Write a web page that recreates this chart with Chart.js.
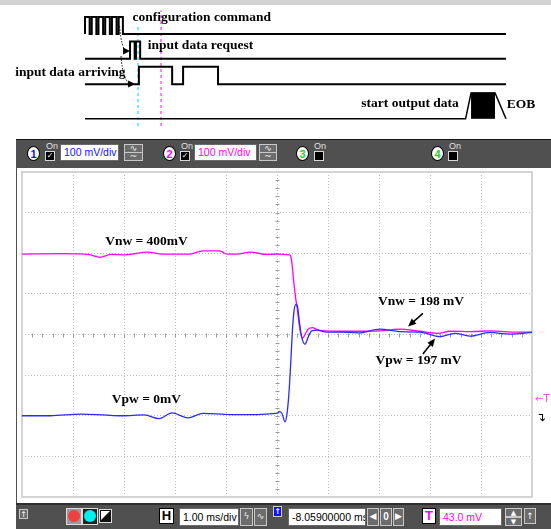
<!DOCTYPE html>
<html>
<head>
<meta charset="utf-8">
<script src="https://cdn.jsdelivr.net/npm/chart.js@4.4.0/dist/chart.umd.min.js"></script>
<style>
  body { margin: 0; width: 551px; height: 529px; overflow: hidden; background: #fff; position: relative;
         font-family: "Liberation Sans", Arial, sans-serif; }
  .a { position: absolute; box-sizing: border-box; }
  .ov { position: absolute; width: 13px; height: 15px; border: 1px solid #000; border-radius: 50%; background: #fff;
        font: bold 11px "Liberation Sans", Arial; text-align: center; line-height: 14px; box-sizing: border-box; }
  .on { position: absolute; font: 9px "Liberation Sans", Arial; color: #e0e0e0; line-height: 9px; }
  .cb { position: absolute; width: 10px; height: 10px; background: #000; border: 1px solid #d8d8d8; box-sizing: border-box;
        color: #fff; font: bold 8px "DejaVu Sans"; line-height: 8px; text-align: center; }
  .tb { position: absolute; background: #fff; border: 1px solid #6a6a6a; font: 10.5px "Liberation Sans", Arial;
        line-height: 15px; padding-left: 3px; box-sizing: border-box; white-space: nowrap; overflow: hidden; }
  .bt { position: absolute; background: #6c6c6c; border: 1px solid #c8c8c8; box-sizing: border-box; color: #eee;
        font: 9px "DejaVu Sans"; text-align: center; line-height: 14px; }
</style>
</head>
<body>
<!-- top grey band -->
<div class="a" style="left:0;top:0;width:551px;height:5px;background:#d2d2d2"></div>
<canvas id="timing" class="a" width="551" height="135" style="left:0;top:0"></canvas>

<!-- scope frame -->
<div class="a" style="left:16px;top:139px;width:535px;height:390px;background:#505050;border-top:1px solid #141414"></div>
<div class="a" style="left:17px;top:168px;width:534px;height:335px;background:#fff"></div>
<div class="a" style="left:16px;top:503px;width:535px;height:2px;background:#2e2e2e"></div>
<canvas id="scope" class="a" width="534" height="335" style="left:17px;top:168px"></canvas>

<!-- channel bar -->
<div class="ov" style="left:27px;top:146px;color:#1010ff">1</div>
<div class="on" style="left:46px;top:142px">On</div>
<div class="cb" style="left:45px;top:151px">✓</div>
<div class="tb" style="left:60px;top:144px;width:59px;height:17px;color:#1414ff">100 mV/div</div>
<div class="bt" style="left:124px;top:144px;width:19px;height:9px;line-height:7px">∿</div>
<div class="bt" style="left:124px;top:152px;width:19px;height:9px;line-height:7px">~</div>

<div class="ov" style="left:163px;top:146px;color:#ff00ff">2</div>
<div class="on" style="left:181px;top:142px">On</div>
<div class="cb" style="left:180px;top:151px">✓</div>
<div class="tb" style="left:194px;top:144px;width:63px;height:17px;color:#ff00ff">100 mV/div</div>
<div class="bt" style="left:259px;top:144px;width:18px;height:9px;line-height:7px">∿</div>
<div class="bt" style="left:259px;top:152px;width:18px;height:9px;line-height:7px">~</div>

<div class="ov" style="left:296px;top:146px;color:#22d022">3</div>
<div class="on" style="left:314px;top:142px">On</div>
<div class="cb" style="left:314px;top:151px"></div>

<div class="ov" style="left:431px;top:146px;color:#22d022">4</div>
<div class="on" style="left:449px;top:142px">On</div>
<div class="cb" style="left:448px;top:151px"></div>

<!-- right trigger markers -->
<div class="a" style="left:535px;top:393px;font:10px 'DejaVu Sans';color:#ff40ff">←T</div>
<div class="a" style="left:536px;top:410px;font:12px 'DejaVu Sans';color:#000">↴</div>

<!-- bottom toolbar -->
<div class="bt" style="left:19px;top:509px;width:9px;height:10px;line-height:9px;font-size:8px;color:#fff">↑</div>
<div class="a" style="left:66px;top:508px;width:16px;height:17px;background:#9a9a9a;border:1px solid #ddd"></div>
<div class="a" style="left:68px;top:510px;width:12px;height:12px;border-radius:50%;background:#f04040"></div>
<div class="a" style="left:82px;top:508px;width:16px;height:17px;background:#222;border:1px solid #ddd"></div>
<div class="a" style="left:84px;top:510px;width:12px;height:12px;border-radius:50%;background:#00f0f0"></div>
<div class="a" style="left:99px;top:509px;width:13px;height:14px;background:#111;border:1px solid #ddd"></div>
<div class="a" style="left:101px;top:511px;width:9px;height:9px;background:linear-gradient(135deg,#fff 45%,#111 55%)"></div>

<div class="a" style="left:159px;top:508px;width:15px;height:16px;background:#fff;border:1px solid #000;font:bold 13px 'Liberation Sans';text-align:center;line-height:14px">H</div>
<div class="tb" style="left:179px;top:508px;width:60px;height:18px;line-height:16px;color:#000">1.00 ms/div</div>
<div class="bt" style="left:240px;top:508px;width:13px;height:18px">ϟ</div>
<div class="bt" style="left:254px;top:508px;width:13px;height:18px">∿</div>
<div class="a" style="left:273px;top:506px;width:9px;height:11px;background:#1010ff;border:1px solid #ccc;color:#fff;font:bold 8px 'DejaVu Sans';text-align:center;line-height:9px">↑</div>
<div class="tb" style="left:288px;top:508px;width:78px;height:18px;line-height:16px;color:#000">-8.05900000 ms</div>
<div class="bt" style="left:367px;top:508px;width:12px;height:18px;color:#fff">◀</div>
<div class="bt" style="left:380px;top:508px;width:12px;height:18px;color:#fff;font:bold 10px 'Liberation Sans';line-height:16px">0</div>
<div class="bt" style="left:393px;top:508px;width:11px;height:18px;color:#fff">▶</div>
<div class="a" style="left:422px;top:508px;width:14px;height:16px;background:#fff;border:1px solid #000;font:bold 13px 'Liberation Sans';color:#ff00ff;text-align:center;line-height:14px">T</div>
<div class="tb" style="left:439px;top:508px;width:63px;height:18px;line-height:16px;color:#ff00ff">43.0 mV</div>
<div class="bt" style="left:505px;top:508px;width:17px;height:9px;line-height:8px;color:#fff;font-size:7px">▲</div>
<div class="bt" style="left:505px;top:517px;width:17px;height:9px;line-height:8px;color:#fff;font-size:7px">▼</div>
<div class="bt" style="left:524px;top:508px;width:12px;height:16px;color:#fff">↑</div>

<script>
// ---------- scope data (time in ms, voltage in mV) ----------
const ch1Time = [0, 0.55, 1.16, 1.6, 1.96, 2.4, 2.69, 2.94, 3.25, 3.55,
                 4.08, 4.61, 4.9, 5.02, 5.045, 5.10, 5.157, 5.20, 5.24, 5.27,
                 5.30, 5.33, 5.37, 5.40, 5.44, 5.48, 5.55, 5.61, 5.68, 5.78,
                 5.97, 6.24, 6.6, 7.02, 7.41, 7.8, 8.2, 8.49, 8.78, 9.18,
                 9.57, 10];
const ch1Mv = [0, 0, 4, 2, 0, 2, -7, 7, -5, 6,
               3, 3, 5, 7, 11, 5, -15, 9, 66, 132,
               205, 254, 274, 270, 230, 196, 176, 193, 209, 211,
               206, 206, 204, 213, 207, 206, 195, 203, 196, 205,
               201, 205];

const ch2Time = [0, 0.8, 1.3, 1.53, 1.75, 2.02, 2.47, 2.76, 3.29, 3.55,
                 3.88, 4.02, 4.22, 4.47, 4.8, 5.0, 5.24, 5.27, 5.30, 5.33,
                 5.37, 5.40, 5.43, 5.46, 5.50, 5.55, 5.61, 5.70, 5.78, 5.97,
                 6.4, 7.02, 7.4, 7.8, 8.14, 8.4, 8.8, 9.2, 9.6, 10];
const ch2Mv = [398, 399, 397, 390, 397, 396, 403, 398, 398, 406,
               406, 398, 398, 403, 397, 398, 396, 392, 368, 328,
               286, 261, 230, 205, 191, 200, 213, 217, 212, 209,
               208, 209, 213, 208, 203, 208, 207, 209, 206, 206];

const X_DIVS = [0, 10];       // ms, 1 ms/div
const Y_RANGE = [-200, 600];  // mV, 100 mV/div

const scopeLabels = [
  { text: 'Vnw = 400mV',  t: 1.63, mv: 428 },
  { text: 'Vnw = 198 mV', t: 6.98, mv: 281 },
  { text: 'Vpw = 197 mV', t: 6.93, mv: 137 },
  { text: 'Vpw = 0mV',    t: 1.76, mv: 39 }
];
const scopeArrows = [
  { from: [7.86, 252], to: [7.57, 220] },
  { from: [7.86, 152], to: [8.10, 190] }
];

// ---------- timing diagram data (arbitrary time units 0..100) ----------
const configT   = [0, 0, 1.1, 1.6, 2.7, 3.2, 4.3, 4.8, 5.9, 6.4, 7.5, 8.0, 9.0, 100];
const configLvl = [0, 1, 0,   1,   0,   1,   0,   1,   0,   1,   0,   1,   0,   0];
const requestT   = [0, 10.7, 11.8, 12.1, 13.1, 100];
const requestLvl = [0, 1,    0,    1,    0,    0];
const arriveT   = [0, 12.8, 20.7, 23.3, 31.6, 100];
const arriveLvl = [0, 1,    0,    1,    0,    0];
const outputT   = [0, 90.4, 91.7, 97.4, 100];
const outputLvl = [0, 0,    1,    1,    0];
const cursorCyan = 12.6;
const cursorMagenta = 18.05;

const rowLow  = [10.1, 7.63, 5.07, 1.62];
const rowHigh = [11.8, 9.35, 6.82, 4.2];

const timingLabels = [
  { text: 'configuration command', t: 11.3, y: 11.7, align: 'left' },
  { text: 'input data request',    t: 14.9, y: 8.93, align: 'left' },
  { text: 'input data arriving',   t: 9.6,  y: 6.23, align: 'right' },
  { text: 'start output data',     t: 88.8, y: 3.14, align: 'right' },
  { text: 'EOB',                   t: 100.2, y: 3.03, align: 'left' }
];
const timingArrows = [
  { from: [8.2, 10.9], ctrl: [8.7, 8.6], to: [10.7, 8.4] },
  { from: [8.55, 7.9], ctrl: [9.0, 5.3], to: [11.9, 5.1] }
];

const toPts = (ts, vs, row) => ts.map((t, i) => ({ x: t, y: row === undefined ? vs[i] : rowLow[row] + vs[i] * (rowHigh[row] - rowLow[row]) }));

// ---------- timing chart ----------
const timingPlugin = {
  id: 'timingText',
  afterDatasetsDraw(chart) {
    const { ctx, scales: { x, y } } = chart;
    ctx.save();
    ctx.fillStyle = '#000';
    ctx.font = 'bold 13.5px "Liberation Serif", "Times New Roman", serif';
    ctx.textBaseline = 'middle';
    timingLabels.forEach(l => {
      ctx.textAlign = l.align;
      ctx.fillText(l.text, x.getPixelForValue(l.t), y.getPixelForValue(l.y));
    });
    timingArrows.forEach(a => {
      const p0 = [x.getPixelForValue(a.from[0]), y.getPixelForValue(a.from[1])];
      const pc = [x.getPixelForValue(a.ctrl[0]), y.getPixelForValue(a.ctrl[1])];
      const p1 = [x.getPixelForValue(a.to[0]), y.getPixelForValue(a.to[1])];
      ctx.strokeStyle = '#000';
      ctx.lineWidth = 1;
      ctx.setLineDash([1.5, 1.5]);
      ctx.beginPath();
      ctx.moveTo(p0[0], p0[1]);
      ctx.quadraticCurveTo(pc[0], pc[1], p1[0] - 4, p1[1]);
      ctx.stroke();
      ctx.setLineDash([]);
      ctx.beginPath();
      ctx.moveTo(p1[0], p1[1]);
      ctx.lineTo(p1[0] - 7, p1[1] - 3.5);
      ctx.lineTo(p1[0] - 7, p1[1] + 3.5);
      ctx.closePath();
      ctx.fill();
    });
    ctx.restore();
  }
};

const sigLine = (data) => ({ data, borderColor: '#000', borderWidth: 2, pointRadius: 0, stepped: true, fill: false });

new Chart(document.getElementById('timing'), {
  type: 'line',
  data: {
    datasets: [
      sigLine(toPts(configT, configLvl, 0)),
      sigLine(toPts(requestT, requestLvl, 1)),
      sigLine(toPts(arriveT, arriveLvl, 2)),
      { data: toPts(outputT, outputLvl, 3), borderColor: '#000', borderWidth: 1.5, pointRadius: 0, fill: false },
      { data: toPts(outputT.slice(2, 4), outputLvl.slice(2, 4), 3), borderColor: '#000', borderWidth: 1,
        pointRadius: 0, backgroundColor: '#000', fill: { value: rowLow[3] } },
      { data: [{ x: cursorCyan, y: 0.9 }, { x: cursorCyan, y: 11.05 }], borderColor: '#35e0ef', borderWidth: 1.3,
        borderDash: [3, 3], pointRadius: 0 },
      { data: [{ x: cursorMagenta, y: 0.9 }, { x: cursorMagenta, y: 12.45 }], borderColor: '#ff40ff', borderWidth: 1.3,
        borderDash: [3, 3], pointRadius: 0 }
    ]
  },
  options: {
    responsive: false,
    animation: false,
    devicePixelRatio: 1,
    layout: { padding: 0 },
    plugins: { legend: { display: false }, tooltip: { enabled: false } },
    scales: {
      x: { type: 'linear', display: false, min: -20.19, max: 110.69 },
      y: { type: 'linear', display: false, min: 0, max: 13.5 }
    }
  },
  plugins: [timingPlugin]
});

// ---------- scope chart ----------
const scopePlugin = {
  id: 'scopeDecor',
  beforeDatasetsDraw(chart) {
    const { ctx, chartArea: a, scales: { x, y } } = chart;
    ctx.save();
    // center axis minor ticks
    ctx.strokeStyle = '#9a9a9a';
    ctx.lineWidth = 1;
    const cy = Math.round(y.getPixelForValue(200)) + 0.5;
    const cx = Math.round(x.getPixelForValue(5)) + 0.5;
    ctx.beginPath();
    for (let t = 0.2; t < 10; t += 0.2) {
      const px = Math.round(x.getPixelForValue(t)) + 0.5;
      ctx.moveTo(px, cy - 2); ctx.lineTo(px, cy + 2);
    }
    for (let v = -180; v < 600; v += 20) {
      const py = Math.round(y.getPixelForValue(v)) + 0.5;
      ctx.moveTo(cx - 2, py); ctx.lineTo(cx + 2, py);
    }
    ctx.stroke();
    // plot border
    ctx.strokeStyle = '#d4d4d4';
    ctx.lineWidth = 2;
    ctx.strokeRect(a.left, a.top, a.right - a.left, a.bottom - a.top);
    ctx.restore();
  },
  afterDatasetsDraw(chart) {
    const { ctx, scales: { x, y } } = chart;
    ctx.save();
    ctx.fillStyle = '#000';
    ctx.font = 'bold 13.5px "Liberation Serif", "Times New Roman", serif';
    ctx.textBaseline = 'middle';
    ctx.textAlign = 'left';
    scopeLabels.forEach(l => ctx.fillText(l.text, x.getPixelForValue(l.t), y.getPixelForValue(l.mv)));
    scopeArrows.forEach(ar => {
      const x0 = x.getPixelForValue(ar.from[0]), y0 = y.getPixelForValue(ar.from[1]);
      const x1 = x.getPixelForValue(ar.to[0]), y1 = y.getPixelForValue(ar.to[1]);
      const ang = Math.atan2(y1 - y0, x1 - x0);
      ctx.strokeStyle = '#000';
      ctx.lineWidth = 1.5;
      ctx.beginPath();
      ctx.moveTo(x0, y0);
      ctx.lineTo(x1 - 5 * Math.cos(ang), y1 - 5 * Math.sin(ang));
      ctx.stroke();
      ctx.beginPath();
      ctx.moveTo(x1, y1);
      ctx.lineTo(x1 - 8 * Math.cos(ang) + 3.5 * Math.sin(ang), y1 - 8 * Math.sin(ang) - 3.5 * Math.cos(ang));
      ctx.lineTo(x1 - 8 * Math.cos(ang) - 3.5 * Math.sin(ang), y1 - 8 * Math.sin(ang) + 3.5 * Math.cos(ang));
      ctx.closePath();
      ctx.fill();
    });
    ctx.restore();
  }
};

new Chart(document.getElementById('scope'), {
  type: 'line',
  data: {
    datasets: [
      { label: 'Vpw (ch1)', data: toPts(ch1Time, ch1Mv), borderColor: '#2a2aff', borderWidth: 1.3,
        pointRadius: 0, cubicInterpolationMode: 'monotone', fill: false },
      { label: 'Vnw (ch2)', data: toPts(ch2Time, ch2Mv), borderColor: '#ff00ff', borderWidth: 1.3,
        pointRadius: 0, cubicInterpolationMode: 'monotone', fill: false }
    ]
  },
  options: {
    responsive: false,
    animation: false,
    devicePixelRatio: 1,
    layout: { padding: { left: 5, right: 19, top: 4, bottom: 6 } },
    plugins: { legend: { display: false }, tooltip: { enabled: false } },
    scales: {
      x: {
        type: 'linear', min: X_DIVS[0], max: X_DIVS[1],
        ticks: { display: false, stepSize: 1 },
        grid: { color: '#bdbdbd', drawTicks: false },
        border: { display: false, dash: [1, 2] }
      },
      y: {
        type: 'linear', min: Y_RANGE[0], max: Y_RANGE[1],
        ticks: { display: false, stepSize: 100 },
        grid: { color: '#bdbdbd', drawTicks: false },
        border: { display: false, dash: [1, 2] }
      }
    }
  },
  plugins: [scopePlugin]
});
</script>
</body>
</html>
